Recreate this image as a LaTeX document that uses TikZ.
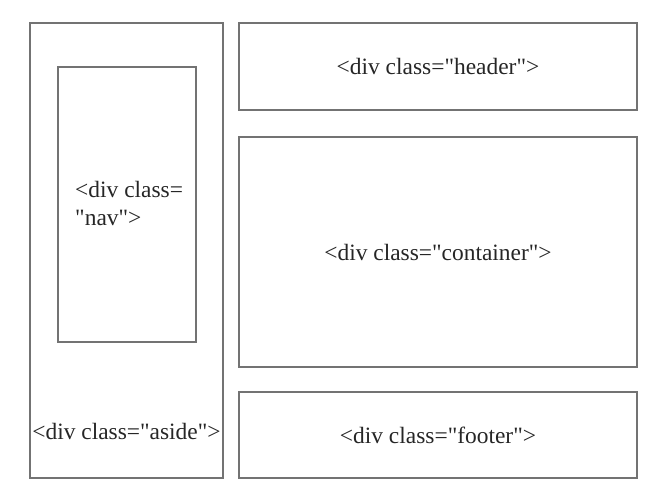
\documentclass[tikz,border=0pt]{standalone}
\usepackage{fontspec}
\setmainfont{Liberation Serif}[Ligatures=TeXOff]
\begin{document}
\begin{tikzpicture}[x=0.03cm, y=-0.03cm,
		divbox/.style={draw=black!55, line width=1.1pt},
		divtext/.style={font=\fontsize{20}{24}\selectfont, text=black!85, inner sep=0pt}]
		\useasboundingbox (0,0) rectangle (663,497);
		
		% Columna izquierda (aside y nav)
		\draw[divbox] (30,23) rectangle (223,478);
		\node[divtext] (aside) at (126.5,431) {<div class="aside">};
		\draw[divbox] (58,67) rectangle (196,342);
		\node[divtext, anchor=north west, align=left] (nav) at (75,181) {<div class=\\"nav">};
		
		% Columna derecha (header, container, footer)
		\draw[divbox] (239,23) rectangle (637,110);
		\node[divtext] (header) at (438,66.5) {<div class="header">};
		\draw[divbox] (239,137) rectangle (637,367);
		\node[divtext] (container) at (438,252) {<div class="container">};
		\draw[divbox] (239,392) rectangle (637,478);
		\node[divtext] (footer) at (438,435) {<div class="footer">};
	\end{tikzpicture}
\end{document}
